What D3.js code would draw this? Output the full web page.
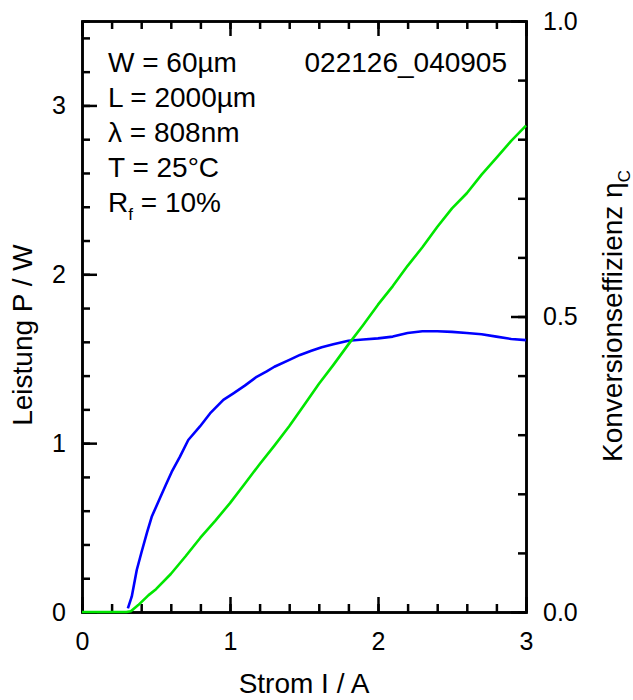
<!DOCTYPE html>
<html>
<head>
<meta charset="utf-8">
<script src="https://cdn.jsdelivr.net/npm/d3@7"></script>
<style>
body { margin: 0; background: #fff; }
text { font-family: Arial, "Liberation Sans", sans-serif; fill: #000; }
</style>
</head>
<body>
<script>
var Blue = "#0000ff"
var Green = "#00e600"

// Leistung P (W) over Strom I (A)
var currentP = [0, 0.1, 0.2, 0.3, 0.33, 0.38, 0.45, 0.5, 0.6, 0.7, 0.8, 0.9, 1.0, 1.1, 1.2, 1.3, 1.4, 1.5, 1.6, 1.7, 1.8, 1.9, 2.0, 2.1, 2.2, 2.3, 2.4, 2.5, 2.6, 2.7, 2.8, 2.9, 3.0];
var power = [0, 0, 0, 0, 0.005, 0.041, 0.10, 0.135, 0.225, 0.33, 0.44, 0.54, 0.645, 0.76, 0.875, 0.985, 1.10, 1.225, 1.35, 1.465, 1.585, 1.70, 1.82, 1.93, 2.05, 2.16, 2.28, 2.39, 2.48, 2.59, 2.69, 2.79, 2.88];

// Konversionseffizienz over Strom I (A)
var currentE = [0.31, 0.336, 0.37, 0.403, 0.44, 0.471, 0.527, 0.566, 0.606, 0.662, 0.718, 0.797, 0.865, 0.955, 1.023, 1.1, 1.18, 1.248, 1.3, 1.405, 1.473, 1.55, 1.62, 1.698, 1.8, 1.9, 2.0, 2.1, 2.2, 2.3, 2.4, 2.5, 2.6, 2.7, 2.8, 2.9, 3.0];
var eff = [0.006, 0.026, 0.071, 0.102, 0.135, 0.161, 0.193, 0.215, 0.237, 0.263, 0.291, 0.314, 0.336, 0.359, 0.370, 0.383, 0.398, 0.407, 0.415, 0.427, 0.435, 0.442, 0.448, 0.453, 0.459, 0.461, 0.463, 0.466, 0.472, 0.475, 0.475, 0.474, 0.472, 0.470, 0.466, 0.462, 0.460];

var xTicks = [0, 1, 2, 3];
var yLeftTicks = [0, 1, 2, 3];
var yRightTicks = [0, 0.5, 1];
var notes = ["W = 60\u00b5m", "L = 2000\u00b5m", "\u03bb = 808nm", "T = 25\u00b0C"];

var W = 633, H = 700;
var pLeft = 82, pRight = 526, pTop = 21, pBottom = 612;

var svg = d3.select("body").append("svg")
	.attr("width", W)
	.attr("height", H);

var x = d3.scaleLinear().domain([0, 3]).range([pLeft, pRight]);
var yL = d3.scaleLinear().domain([0, 3.5]).range([pBottom, pTop]);
var yR = d3.scaleLinear().domain([0, 1]).range([pBottom, pTop]);

var minorX = d3.range(0, 3.01, 0.2);
var minorYL = d3.range(0, 3.51, 0.2);
var minorYR = d3.range(0, 1.01, 0.1);

function styleAxis(g) {
	g.selectAll("path").attr("stroke", "#000").attr("stroke-width", 2.5);
	g.selectAll("line").attr("stroke", "#000").attr("stroke-width", 2.5);
	g.selectAll("text").attr("font-size", 25).attr("fill", "#000")
		.attr("font-family", "Arial, 'Liberation Sans', sans-serif");
}

// minor ticks
svg.append("g").attr("transform", "translate(0," + pBottom + ")")
	.call(d3.axisBottom(x).tickValues(minorX).tickSize(-8).tickFormat(""))
	.call(styleAxis);
svg.append("g").attr("transform", "translate(0," + pTop + ")")
	.call(d3.axisTop(x).tickValues(minorX).tickSize(-8).tickFormat(""))
	.call(styleAxis);
svg.append("g").attr("transform", "translate(" + pLeft + ",0)")
	.call(d3.axisLeft(yL).tickValues(minorYL).tickSize(-8).tickFormat(""))
	.call(styleAxis);
svg.append("g").attr("transform", "translate(" + pRight + ",0)")
	.call(d3.axisRight(yR).tickValues(minorYR).tickSize(-8).tickFormat(""))
	.call(styleAxis);

// major ticks
svg.append("g").attr("transform", "translate(0," + pBottom + ")")
	.call(d3.axisBottom(x).tickValues(xTicks).tickSizeInner(-15).tickSizeOuter(0).tickPadding(20).tickFormat(d3.format("d")))
	.call(styleAxis);
svg.append("g").attr("transform", "translate(0," + pTop + ")")
	.call(d3.axisTop(x).tickValues(xTicks).tickSizeInner(-15).tickSizeOuter(0).tickFormat(""))
	.call(styleAxis);
svg.append("g").attr("transform", "translate(" + pLeft + ",0)")
	.call(d3.axisLeft(yL).tickValues(yLeftTicks).tickSizeInner(-15).tickSizeOuter(0).tickPadding(16).tickFormat(d3.format("d")))
	.call(styleAxis);
svg.append("g").attr("transform", "translate(" + pRight + ",0)")
	.call(d3.axisRight(yR).tickValues(yRightTicks).tickSizeInner(-15).tickSizeOuter(0).tickPadding(17).tickFormat(d3.format(".1f")))
	.call(styleAxis);

// curves
var effLine = d3.line()
	.x((d, i) => x(currentE[i]))
	.y(d => yR(d));
var powLine = d3.line()
	.x((d, i) => x(currentP[i]))
	.y(d => yL(d));

svg.append("path")
	.attr("d", effLine(eff))
	.attr("fill", "none")
	.attr("stroke", Blue)
	.attr("stroke-width", 2.6)
	.attr("stroke-linejoin", "round");

svg.append("path")
	.attr("d", powLine(power))
	.attr("fill", "none")
	.attr("stroke", Green)
	.attr("stroke-width", 2.6)
	.attr("stroke-linejoin", "round");

// annotations
svg.selectAll(".note").data(notes).enter()
	.append("text")
	.attr("class", "note")
	.attr("x", 108)
	.attr("y", (d, i) => 72 + i * 35)
	.attr("font-size", 28)
	.text(d => d);

var rf = svg.append("text")
	.attr("x", 108)
	.attr("y", 72 + 4 * 35)
	.attr("font-size", 28);
rf.append("tspan").text("R");
rf.append("tspan").attr("font-size", 17).attr("dy", 8).text("f");
rf.append("tspan").attr("dy", -8).text(" = 10%");

svg.append("text")
	.attr("x", 507)
	.attr("y", 72)
	.attr("font-size", 28)
	.attr("text-anchor", "end")
	.text("022126_040905");

// axis titles
svg.append("text")
	.attr("x", (pLeft + pRight) / 2)
	.attr("y", 693)
	.attr("font-size", 28)
	.attr("text-anchor", "middle")
	.text("Strom I / A");

svg.append("text")
	.attr("transform", "translate(32,335) rotate(-90)")
	.attr("font-size", 28)
	.attr("text-anchor", "middle")
	.text("Leistung P / W");

var kt = svg.append("text")
	.attr("transform", "translate(622,462) rotate(-90)")
	.attr("font-size", 28);
kt.append("tspan").text("Konversionseffizienz \u03b7");
kt.append("tspan").attr("font-size", 17).attr("dy", 8).text("C");
</script>
</body>
</html>
